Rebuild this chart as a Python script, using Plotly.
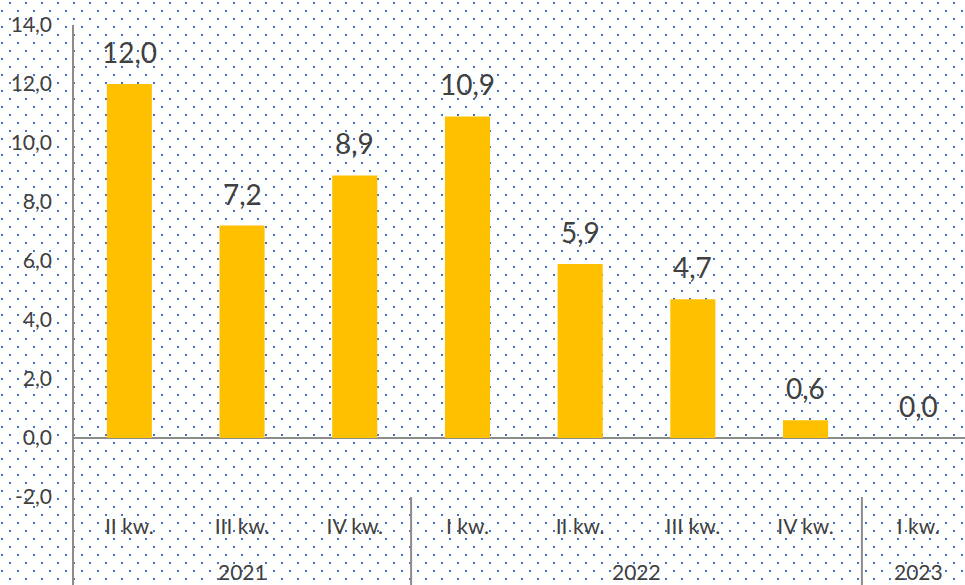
import base64
import plotly.graph_objects as go

# ---- data ----
years = ["2021", "2021", "2021", "2022", "2022", "2022", "2022", "2023"]
quarters = ["II kw.", "III kw.", "IV kw.", "I kw.", "II kw.", "III kw.", "IV kw.", "I kw."]
values = [12.0, 7.2, 8.9, 10.9, 5.9, 4.7, 0.6, 0.0]
y_ticks = [-2, 0, 2, 4, 6, 8, 10, 12, 14]

# ---- geometry ----
W, H = 965, 585
ML, MR, MT, MB = 73, 0, 25, 88
PW, PH = W - ML - MR, H - MT - MB
CAT_PX = 112.7
x_hi = -0.5 + PW / CAT_PX

BAR = "#FFC000"
TXT = "#404040"
AX = "#8C8C8C"
FONT = "Lato, 'Open Sans', sans-serif"

def fmt(v):
    return f"{v:.1f}".replace(".", ",")

xs = list(range(len(values)))

fig = go.Figure()
fig.add_trace(go.Bar(
    x=xs, y=values, width=0.4,
    marker=dict(color=BAR, line=dict(width=0)),
    hoverinfo="skip",
))

# bar value labels
annotations = []
for x, v in zip(xs, values):
    annotations.append(dict(
        x=x, y=v, xref="x", yref="y", text=fmt(v), showarrow=False,
        yanchor="bottom", yshift=13,
        font=dict(family=FONT, size=28, color=TXT),
    ))

# year group labels and dividers
groups = []
for i, yv in enumerate(years):
    if groups and groups[-1][0] == yv:
        groups[-1][2] = i
    else:
        groups.append([yv, i, i])

shapes = []
y_bottom = -MB / PH
for gi, (yv, a, b) in enumerate(groups):
    annotations.append(dict(
        x=(a + b) / 2, y=y_bottom, xref="x", yref="paper", text=yv,
        showarrow=False, yanchor="bottom", borderpad=0,
        font=dict(family=FONT, size=21, color=TXT),
    ))
    if gi > 0:
        shapes.append(dict(type="line", xref="x", yref="paper",
                           x0=a - 0.5, x1=a - 0.5, y0=0, y1=y_bottom,
                           line=dict(color=AX, width=2)))

# vertical axis line extended through the category area
shapes.append(dict(type="line", xref="paper", yref="paper",
                   x0=0, x1=0, y0=1, y1=y_bottom,
                   line=dict(color=AX, width=2)))

# dotted background pattern
svg = (
    f'<svg xmlns="http://www.w3.org/2000/svg" width="{W}" height="{H}">'
    '<defs><pattern id="p" width="16" height="16" patternUnits="userSpaceOnUse">'
    '<rect x="9" y="2" width="2" height="2" fill="#4472C4"/>'
    '<rect x="1" y="10" width="2" height="2" fill="#4472C4"/>'
    '</pattern></defs>'
    f'<rect width="{W}" height="{H}" fill="url(#p)"/></svg>'
)
src = "data:image/svg+xml;base64," + base64.b64encode(svg.encode()).decode()

fig.update_layout(
    width=W, height=H,
    margin=dict(l=ML, r=MR, t=MT, b=MB, pad=0),
    paper_bgcolor="white",
    plot_bgcolor="rgba(0,0,0,0)",
    showlegend=False,
    font=dict(family=FONT, color=TXT),
    images=[dict(source=src, xref="paper", yref="paper",
                 x=-ML / PW, y=1 + MT / PH, sizex=W / PW, sizey=H / PH,
                 xanchor="left", yanchor="top", sizing="stretch",
                 layer="below")],
    annotations=annotations,
    shapes=shapes,
    xaxis=dict(
        range=[-0.5, x_hi], tickvals=xs, ticktext=quarters,
        showgrid=False, zeroline=False, showline=False, ticks="",
        tickfont=dict(family=FONT, size=21, color=TXT),
        ticklabelstandoff=15, fixedrange=True,
    ),
    yaxis=dict(
        range=[-2, 14], tickvals=y_ticks, ticktext=[fmt(t) for t in y_ticks],
        showgrid=False, showline=False, ticks="",
        zeroline=True, zerolinecolor=AX, zerolinewidth=2,
        tickfont=dict(family=FONT, size=21, color=TXT),
        ticklabelstandoff=20, fixedrange=True,
    ),
)

fig.write_html(
    "out.html",
    config={"displayModeBar": False},
    post_script="document.body.style.margin='0';document.body.style.overflow='hidden';",
)
